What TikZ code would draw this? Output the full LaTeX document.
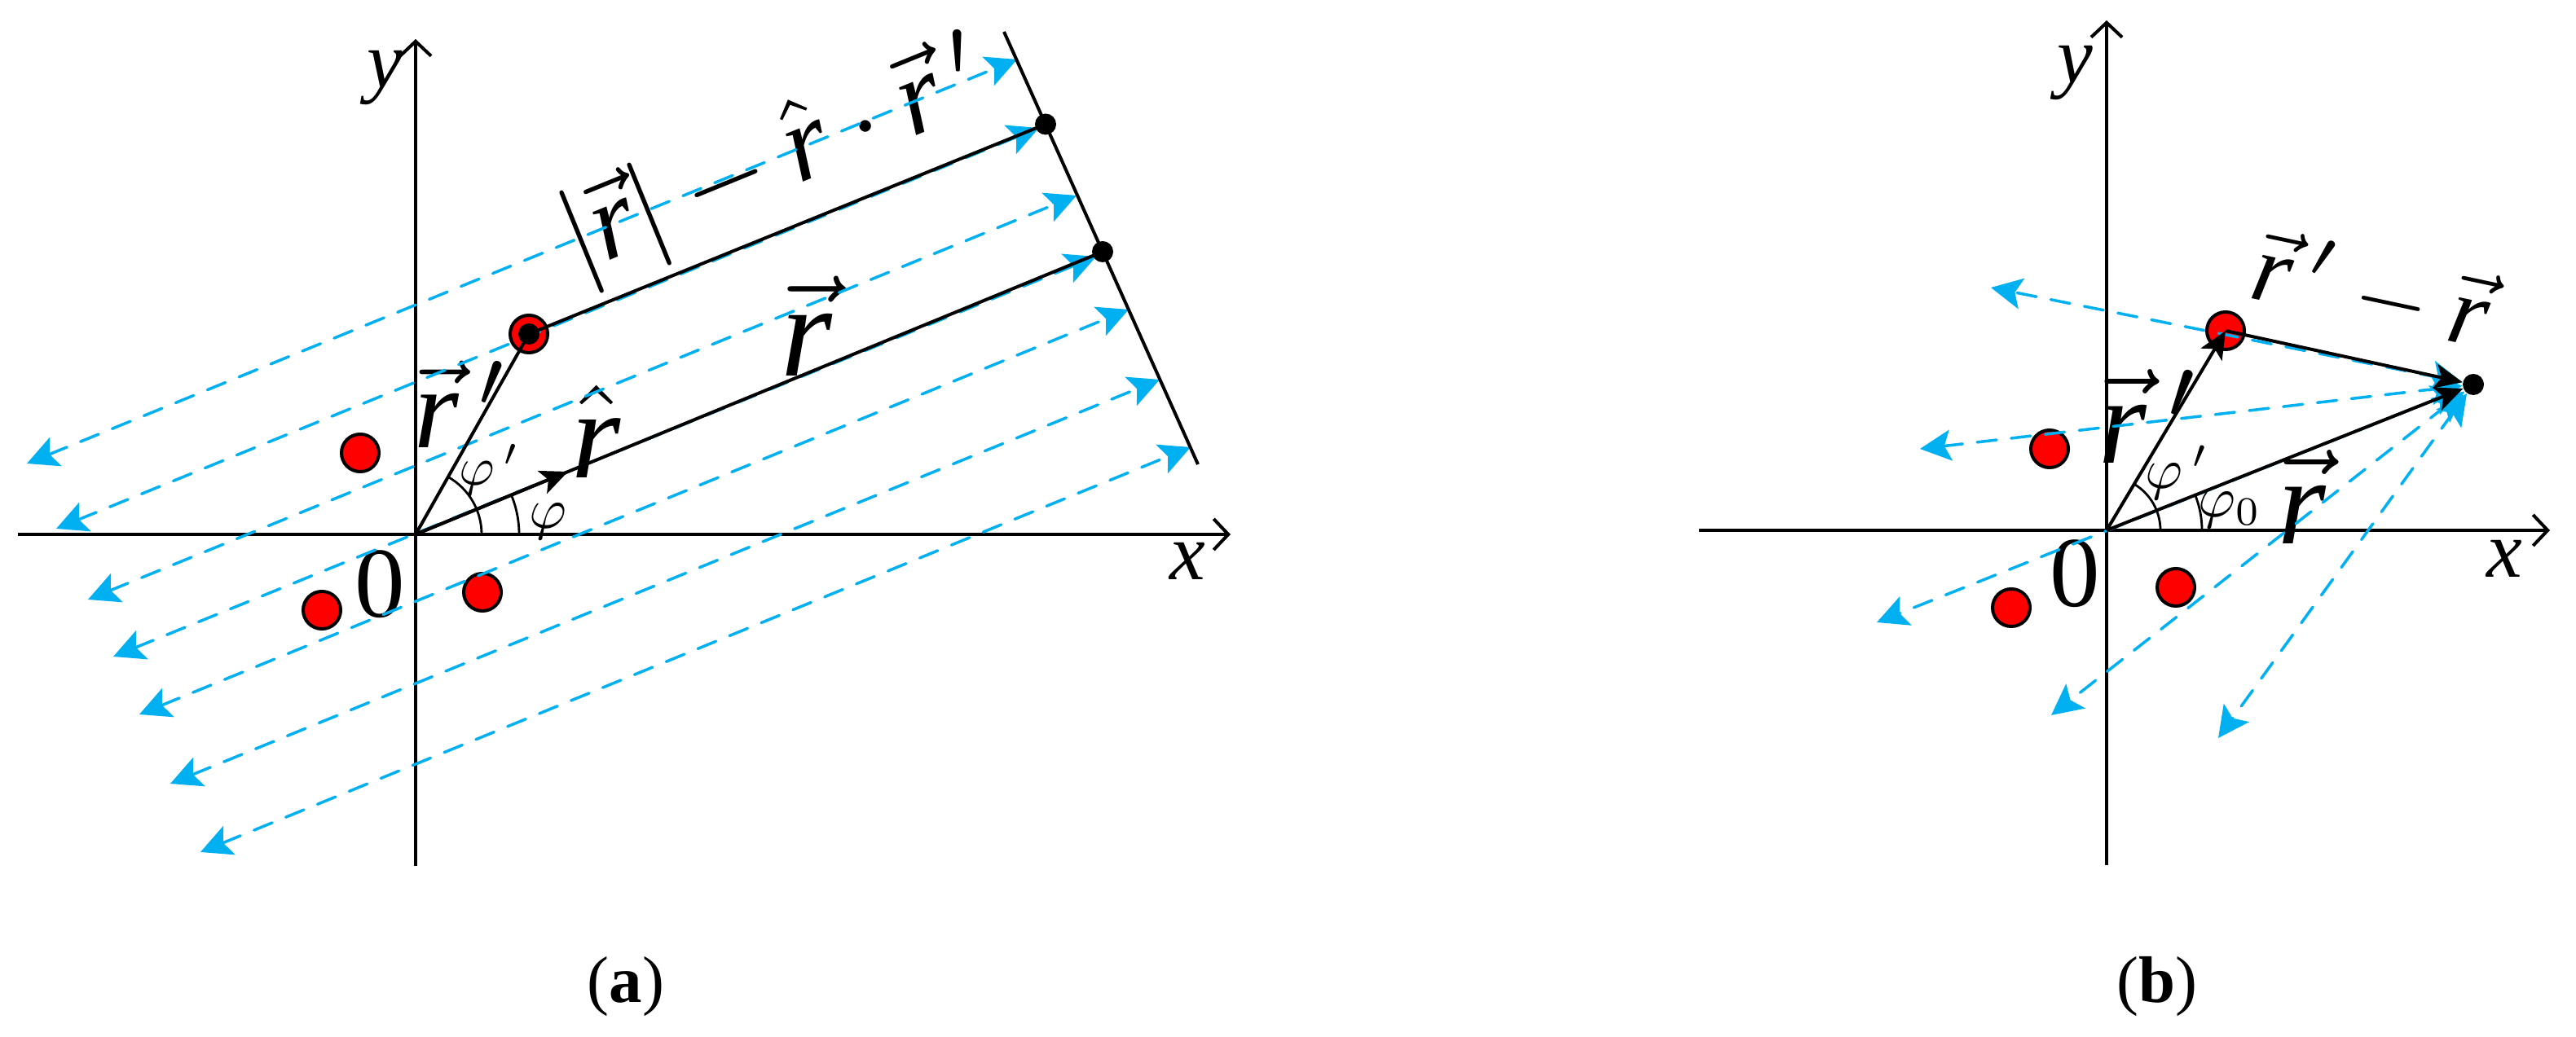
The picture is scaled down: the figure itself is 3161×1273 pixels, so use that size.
\documentclass[tikz,border=0pt]{standalone}
\usepackage{graphicx}
\usepackage{fontspec}
\setmainfont{Liberation Serif}
\usetikzlibrary{arrows.meta}
\definecolor{skyb}{RGB}{0,176,240}
\newcommand{\rr}{\hbox{\itshape r}}
\newcommand{\fs}[1]{\fontsize{#1}{#1}\selectfont}
\newcommand{\Sz}[2]{\scalebox{#1}{#2}}
\begin{document}
\begin{tikzpicture}[x=0.01cm,y=0.01cm,
 ax/.style={line width=0.04cm,-{Straight Barb[length=0.18cm,width=0.38cm]}},
 blk/.style={line width=0.04cm},
 vtip/.style={-{Stealth[length=0.34cm,width=0.30cm,inset=0.08cm]}},
 dsh/.style={skyb,line width=0.035cm,line cap=round,dash pattern=on 0.24cm off 0.18cm,
   {Stealth[length=0.38cm,width=0.38cm,inset=0.08cm]}-{Stealth[length=0.38cm,width=0.38cm,inset=0.08cm]}},
 reddot/.style={circle,draw=black,fill=red,line width=0.04cm,minimum size=0.46cm,inner sep=0pt},
 bdot/.style={circle,fill=black,minimum size=0.26cm,inner sep=0pt},
 arcst/.style={line width=0.028cm},
 lbl/.style={inner sep=0pt,text=black,font=\fs{10pt}},
]
\useasboundingbox (0,0) rectangle (3161,1273);

% ---------------- panel (a) ----------------
\coordinate (Oa) at (510,617);
\coordinate (xa0) at (22,617);
\coordinate (xa1) at (1510,617);
\coordinate (ya0) at (510,210);
\coordinate (ya1) at (510,1225);
\draw[ax] (xa0) -- (xa1);
\draw[ax] (ya0) -- (ya1);

\node[lbl,font=\fs{28pt}\itshape] (ylaba) at (472,1177) {y};
\node[lbl,font=\fs{28pt}\itshape] (xlaba) at (1457,584) {x};
\node[lbl,font=\fs{35pt}] (zeroa) at (466,556) {0};
\node[lbl] (rlaba) at (990,873) {\Sz{4.6}{$\vec{\rr}$}};
\node[lbl] (rhlab) at (732,743) {\Sz{4.4}{$\hat{\rr}$}};
\node[lbl] (rplaba) at (567,777) {\Sz{4.0}{$\vec{\rr}\,'$}};
\node[lbl] (phia) at (672,633) {\Sz{2.0}{$\varphi$}};
\node[lbl] (phipa) at (600,696) {\Sz{1.9}{$\varphi\,'$}};
\node[lbl,rotate=22.2] (difa) at (954,1074) {\Sz{3.85}{$|\vec{\rr}|-\hat{\rr}\cdot\vec{\rr}\,'$}};

\node[reddot] (a1) at (442,717) {};
\node[reddot] (a2) at (395,524) {};
\node[reddot] (a3) at (592,546) {};
\node[reddot] (rpa) at (649,863) {};

\draw[arcst] (Oa) ++(127,0) arc[start angle=0,end angle=22.4,radius=1.27cm];
\draw[arcst] (Oa) ++(81,0) arc[start angle=0,end angle=60.5,radius=0.81cm];

\coordinate (L1) at (33,704);   \coordinate (R1) at (1248,1200);
\coordinate (L2) at (69,624);   \coordinate (R2) at (1275,1116);
\coordinate (L3) at (108,537);  \coordinate (R3) at (1321,1033);
\coordinate (L4) at (139,467);  \coordinate (R4) at (1345,958);
\coordinate (L5) at (171,396);  \coordinate (R5) at (1385,893);
\coordinate (L6) at (209,311);  \coordinate (R6) at (1423,807);
\coordinate (L7) at (246,227);  \coordinate (R7) at (1461,724);
\draw[dsh] (L1) -- (R1);
\draw[dsh] (L2) -- (R2);
\draw[dsh] (L3) -- (R3);
\draw[dsh] (L4) -- (R4);
\draw[dsh] (L5) -- (R5);
\draw[dsh] (L6) -- (R6);
\draw[dsh] (L7) -- (R7);

\coordinate (P1) at (1232,1234);
\coordinate (P2) at (1470,703);
\coordinate (RH) at (697,694);
\node[bdot] (d1) at (1283,1120.5) {};
\node[bdot] (d2) at (1353,964) {};
\draw[blk] (P1) -- (P2);
\draw[blk] (Oa) -- (d2.center);
\draw[blk,vtip] (Oa) -- (RH);
\draw[blk] (Oa) -- (rpa.center);
\draw[blk] (rpa.center) -- (d1.center);
\node[bdot] (rpac) at (649,863) {};

% ---------------- panel (b) ----------------
\coordinate (Ob) at (2585,622);
\coordinate (xb0) at (2085,622);
\coordinate (xb1) at (3129,622);
\coordinate (yb0) at (2585,211);
\coordinate (yb1) at (2585,1248);
\draw[ax] (xb0) -- (xb1);
\draw[ax] (yb0) -- (yb1);

\node[lbl,font=\fs{28pt}\itshape] (ylabb) at (2546,1183) {y};
\node[lbl,font=\fs{28pt}\itshape] (xlabb) at (3073,587) {x};
\node[lbl,font=\fs{35pt}] (zerob) at (2546,569) {0};
\node[lbl] (rplabb) at (2639,762) {\Sz{4.3}{$\vec{\rr}\,'$}};
\node[lbl] (rlabb) at (2825,663) {\Sz{4.3}{$\vec{\rr}$}};
\node[lbl] (phipb) at (2671,693) {\Sz{2.0}{$\varphi\,'$}};
\node[lbl] (phi0b) at (2736,647) {\Sz{2.0}{$\varphi_0$}};
\node[lbl,rotate=-12] (difb) at (2910,916) {\Sz{3.4}{$\vec{\rr}\,'-\vec{\rr}$}};

\node[reddot] (b1) at (2515,722) {};
\node[reddot] (b2) at (2468,527) {};
\node[reddot] (b3) at (2670,552) {};
\node[reddot] (rpb) at (2731,867) {};

\draw[arcst] (Ob) ++(66,0) arc[start angle=0,end angle=59.2,radius=0.66cm];
\draw[arcst] (Ob) ++(117,0) arc[start angle=0,end angle=21.7,radius=1.17cm];

\node[bdot] (bd) at (3035,801) {};
\coordinate (F1) at (2443,920);
\coordinate (F2) at (2356,722);
\coordinate (F3) at (2303,509);
\coordinate (F4) at (2517,395);
\coordinate (F5) at (2722,367);
\draw[dsh] (bd) -- (F1);
\draw[dsh] (bd) -- (F2);
\draw[dsh] (bd) -- (F3);
\draw[dsh] (bd) -- (F4);
\draw[dsh] (bd) -- (F5);

\draw[blk,vtip] (Ob) -- (rpb.center);
\draw[blk,vtip] (rpb.center) -- (bd);
\draw[blk,vtip] (Ob) -- (bd);

% captions
\node[lbl,font=\fs{23pt}] (capa) at (768,62) {(\textbf{a})};
\node[lbl,font=\fs{23pt}] (capb) at (2647,62) {(\textbf{b})};
\end{tikzpicture}
\end{document}
